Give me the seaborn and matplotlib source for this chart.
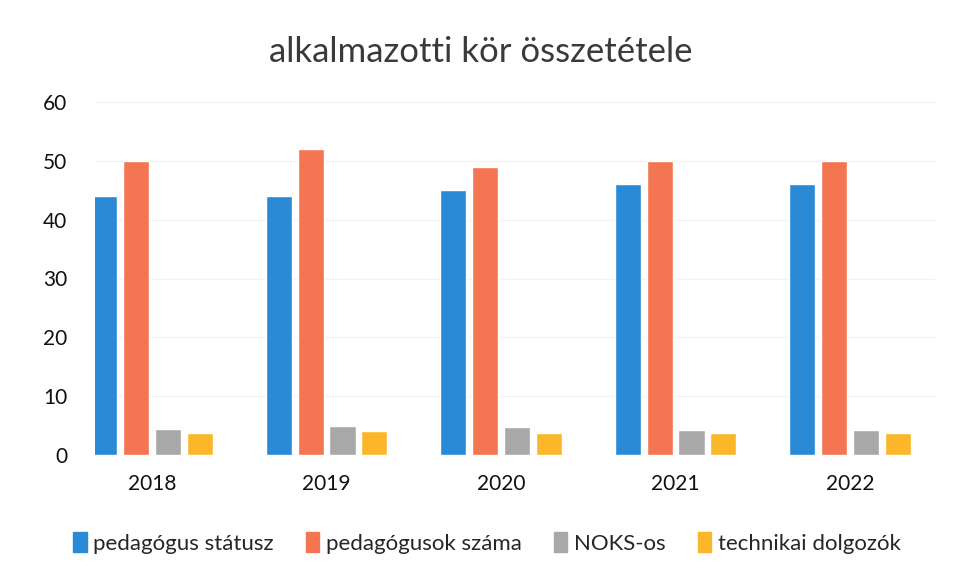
import pandas as pd
import matplotlib.pyplot as plt
import seaborn as sns

# -----------------------------
# data
# -----------------------------
years = ["2018", "2019", "2020", "2021", "2022"]
series = ["pedagógus státusz", "pedagógusok száma", "NOKS-os", "technikai dolgozók"]
pedagogus_statusz = [44, 44, 45, 46, 46]
pedagogusok_szama = [50, 52, 49, 50, 50]
noks = [4.5, 5, 4.7, 4.3, 4.3]
technikai = [3.7, 4, 3.8, 3.7, 3.8]
colors = ["#2a8ad6", "#f47551", "#a8a8a8", "#fbb62a"]

rows = []
for name, vals in zip(series, [pedagogus_statusz, pedagogusok_szama, noks, technikai]):
    for y, v in zip(years, vals):
        rows.append({"év": y, "sorozat": name, "érték": v})
df = pd.DataFrame(rows)

# -----------------------------
# plot
# -----------------------------
sns.set_style("white")
plt.rcParams["font.family"] = ["Lato", "DejaVu Sans"]

fig = plt.figure(figsize=(9.55, 5.62), dpi=100)
ax = fig.add_axes([95 / 955, 1 - 455 / 562, 840 / 955, 353 / 562])

sns.barplot(data=df, x="év", y="érték", hue="sorozat", hue_order=series,
            palette=colors, width=0.73, gap=0.18, saturation=1,
            errorbar=None, legend=False, ax=ax)

ax.set_ylim(0, 60)
ax.set_xlim(-0.327, 4.487)
ax.set_yticks(range(0, 61, 10))
ax.yaxis.grid(True, color="#f3f3f3", linewidth=1)
ax.set_axisbelow(True)
sns.despine(ax=ax, left=True, bottom=True)
ax.set_xlabel("")
ax.set_ylabel("")
ax.tick_params(axis="both", length=0, labelsize=15, labelcolor="#111111")
ax.tick_params(axis="y", pad=20)
ax.tick_params(axis="x", pad=14)

fig.text(0.503, 1 - 52 / 562, "alkalmazotti kör összetétele", ha="center", va="center",
         fontsize=25, color="#3a3a3a")

handles = [plt.Rectangle((0, 0), 1, 1, color=c) for c in colors]
fig.legend(handles, series, loc="center", bbox_to_anchor=(0.51, 1 - 543 / 562), ncol=4,
           frameon=False, fontsize=16, handlelength=0.6, handleheight=1.0,
           handletextpad=0.3, columnspacing=1.45)

plt.savefig("out.png", dpi=100)
